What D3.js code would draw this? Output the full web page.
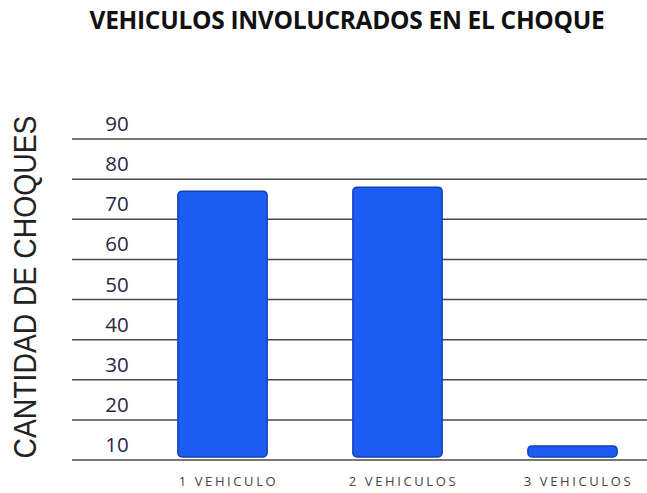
<!DOCTYPE html>
<html><head><meta charset="utf-8">
<script src="https://cdn.jsdelivr.net/npm/d3@7"></script>
<style>body{margin:0;background:#fff}svg{display:block}</style>
</head><body>
<script>
const categories = ["1 VEHICULO", "2 VEHICULOS", "3 VEHICULOS"];
const values = [77, 78, 13.5];
const tickValues = [10, 20, 30, 40, 50, 60, 70, 80, 90];

const W = 647, H = 493;
const svg = d3.select("body").append("svg").attr("width", W).attr("height", H);

const y = d3.scaleLinear().domain([10, 90]).range([460, 139]);
const x = d3.scaleBand().domain(categories).range([135, 660]).paddingInner(0.49).paddingOuter(0.245);

svg.append("text").attr("x", 347).attr("y", 28.5).attr("text-anchor", "middle")
  .attr("font-family", "Open Sans").attr("font-weight", "bold").attr("font-size", 24.5)
  .attr("letter-spacing", -0.3)
  .attr("fill", "#111").text("VEHICULOS INVOLUCRADOS EN EL CHOQUE");

svg.append("text").attr("transform", "translate(35.5,287) rotate(-90)").attr("text-anchor", "middle")
  .attr("font-family", "Liberation Sans").attr("font-size", 31)
  .attr("textLength", 343).attr("lengthAdjust", "spacingAndGlyphs")
  .attr("fill", "#222")
  .text("CANTIDAD DE CHOQUES");

const g = svg.append("g");
g.selectAll("line.grid").data(tickValues).enter().append("line").attr("class", "grid")
  .attr("x1", 72).attr("x2", W).attr("y1", d => y(d)).attr("y2", d => y(d))
  .attr("stroke", "#4a4a4a").attr("stroke-width", 1.5);

g.selectAll("text.tick").data(tickValues).enter().append("text").attr("class", "tick")
  .attr("x", 117).attr("y", d => y(d) - 8).attr("text-anchor", "middle")
  .attr("font-family", "Open Sans").attr("font-size", 20.5).attr("fill", "#2a2845")
  .text(d => d);

g.selectAll("rect.bar").data(values).enter().append("rect").attr("class", "bar")
  .attr("x", (d, i) => x(categories[i])).attr("width", x.bandwidth())
  .attr("y", d => y(d)).attr("height", d => y(10) - 3 - y(d))
  .attr("rx", 4).attr("fill", "#1c5cf2").attr("stroke", "#1240b8").attr("stroke-width", 1.5);

g.selectAll("text.cat").data(categories).enter().append("text").attr("class", "cat")
  .attr("x", d => x(d) + x.bandwidth() / 2 + 6).attr("y", 486).attr("text-anchor", "middle")
  .attr("font-family", "Open Sans").attr("font-size", 13).attr("letter-spacing", 2.6)
  .attr("fill", "#444")
  .text(d => d);
</script>
</body></html>
